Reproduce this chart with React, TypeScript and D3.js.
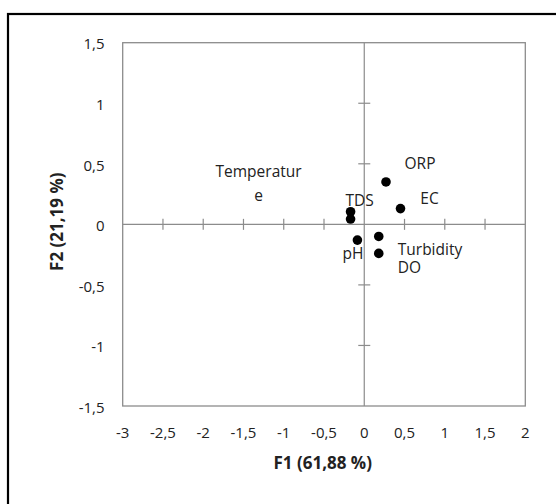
import React from "react";
import * as d3 from "d3";

// PCA loadings plot, F1 vs F2
const variables = ["ORP", "EC", "TDS", "Temperature", "pH", "Turbidity", "DO"];
const f1 = [0.27, 0.45, -0.17, -0.17, -0.085, 0.18, 0.18];
const f2 = [0.35, 0.13, 0.104, 0.044, -0.13, -0.1, -0.24];

const xTicks = [-3, -2.5, -2, -1.5, -1, -0.5, 0, 0.5, 1, 1.5, 2];
const yTicks = [-1.5, -1, -0.5, 0, 0.5, 1, 1.5];

const xTitle = "F1 (61,88 %)";
const yTitle = "F2 (21,19 %)";

// label placement relative to the dot, in px
const labelLayout: Record<string, { dx: number; dy: number; anchor: string; lines: string[] }> = {
  ORP: { dx: 34, dy: -18, anchor: "middle", lines: ["ORP"] },
  EC: { dx: 29, dy: -10, anchor: "middle", lines: ["EC"] },
  TDS: { dx: 9, dy: -11, anchor: "middle", lines: ["TDS"] },
  Temperature: { dx: -92, dy: -47, anchor: "middle", lines: ["Temperatur", "e"] },
  pH: { dx: -4.5, dy: 13.5, anchor: "middle", lines: ["pH"] },
  Turbidity: { dx: 19, dy: 13, anchor: "start", lines: ["Turbidity"] },
  DO: { dx: 19, dy: 13.8, anchor: "start", lines: ["DO"] },
};

const W = 556;
const H = 504;
const plot = { left: 122.7, right: 525.3, top: 42.7, bottom: 406 };
const font = "'Open Sans', 'DejaVu Sans', sans-serif";
const grey = "#8c8c8c";
const textColor = "#222";

const x = d3.scaleLinear().domain([-3, 2]).range([plot.left, plot.right]);
const y = d3.scaleLinear().domain([-1.5, 1.5]).range([plot.bottom, plot.top]);
const fmt = (d: number) => String(d).replace(".", ",");

const App = () => {
  const x0 = x(0);
  const y0 = y(0);
  return (
    <svg
      width={W}
      height={H}
      style={{ position: "absolute", left: 0, top: 0, background: "#fff" }}
      fontFamily={font}
    >
      <rect x={0} y={0} width={W} height={H} fill="#fff" />
      {/* outer frame, runs off the right and bottom edges */}
      <rect x={8} y={14} width={700} height={700} fill="none" stroke="#000" strokeWidth={2.2} />

      {/* plot area */}
      <rect
        x={plot.left}
        y={plot.top}
        width={plot.right - plot.left}
        height={plot.bottom - plot.top}
        fill="none"
        stroke={grey}
        strokeWidth={1.3}
      />

      {/* axes through origin */}
      <line x1={plot.left} x2={plot.right} y1={y0} y2={y0} stroke={grey} strokeWidth={1.2} />
      <line x1={x0} x2={x0} y1={plot.top} y2={plot.bottom} stroke={grey} strokeWidth={1.2} />
      {xTicks
        .filter((t) => t !== 0 && t !== -3 && t !== 2)
        .map((t) => (
          <line key={"xt" + t} x1={x(t)} x2={x(t)} y1={y0 - 5.5} y2={y0 + 5.5} stroke={grey} strokeWidth={1.2} />
        ))}
      {yTicks
        .filter((t) => t !== 0 && Math.abs(t) !== 1.5)
        .map((t) => (
          <line key={"yt" + t} x1={x0 - 6} x2={x0 + 6} y1={y(t)} y2={y(t)} stroke={grey} strokeWidth={1.2} />
        ))}

      {/* tick labels */}
      {xTicks.map((t) => (
        <text key={"xl" + t} x={x(t)} y={432.5} dy="0.35em" textAnchor="middle" fontSize={15} fill={textColor}>
          {fmt(t)}
        </text>
      ))}
      {yTicks.map((t) => (
        <text key={"yl" + t} x={104.6} y={y(t) + 1.5} dy="0.35em" textAnchor="end" fontSize={15} fill={textColor}>
          {fmt(t)}
        </text>
      ))}

      {/* axis titles */}
      <text x={322.7} y={463.3} dy="0.35em" textAnchor="middle" fontSize={17} fontWeight="bold" fill={textColor}>
        {xTitle}
      </text>
      <text
        transform={`translate(56.7, 221.7) rotate(-90)`}
        dy="0.35em"
        textAnchor="middle"
        fontSize={17}
        fontWeight="bold"
        fill={textColor}
      >
        {yTitle}
      </text>

      {/* points */}
      {variables.map((v, i) => (
        <circle key={"p" + v} cx={x(f1[i])} cy={y(f2[i])} r={4.8} fill="#000" />
      ))}

      {/* labels */}
      {variables.map((v, i) => {
        const l = labelLayout[v];
        return l.lines.map((line, j) => (
          <text
            key={"l" + v + j}
            x={x(f1[i]) + l.dx}
            y={y(f2[i]) + l.dy + j * 23.7}
            dy="0.35em"
            textAnchor={l.anchor}
            fontSize={15.5}
            fill={textColor}
          >
            {line}
          </text>
        ));
      })}
    </svg>
  );
};

export default App;
